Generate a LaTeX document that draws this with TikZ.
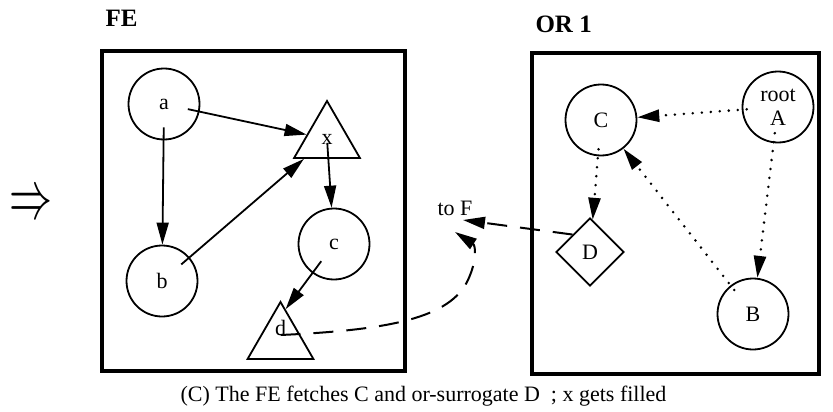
\documentclass[tikz,border=0pt]{standalone}
\usepackage{fontspec}
\setmainfont{Liberation Serif}
\usetikzlibrary{positioning,arrows.meta,shapes.geometric,calc}

\begin{document}
\begin{tikzpicture}[x=1pt, y=-1pt,
    every node/.style={font=\fontsize{22}{24}\selectfont},
    obj/.style={draw, circle, line width=1.8pt, minimum size=71pt, inner sep=0pt},
    tri/.style={draw, regular polygon, regular polygon sides=3, line width=1.8pt, minimum size=76pt, inner sep=0pt},
    surr/.style={draw, diamond, line width=1.8pt, minimum width=68pt, minimum height=68pt, inner sep=0pt},
    panel/.style={draw, line width=4.5pt, inner sep=0pt},
    title/.style={font=\fontsize{25}{27}\selectfont\bfseries, anchor=base west},
    link/.style={-{Triangle[length=22pt,width=12pt]}, line width=1.8pt},
    ptr/.style={link, line width=2.8pt, line cap=round, dash pattern=on 0pt off 9pt},
    remote/.style={link, line width=2pt, dash pattern=on 20pt off 13pt}]
    \useasboundingbox (0,0) rectangle (833,412);

    % the two spaces
    \node[panel, minimum width=303pt, minimum height=320pt] (fe) at (253.5,211) {};
    \node[panel, minimum width=287pt, minimum height=321pt] (or) at (675.5,213.5) {};
    \node[title] (fetitle) at (102,27) {FE};
    \node[title] (ortitle) at (532,33) {OR 1};

    % FE objects
    \node[obj] (a) at (164,104) {a};
    \node[obj] (b) at (162,281) {b};
    \node[obj] (c) at (334,244) {c};
    \node[tri] (x) at (327,139) {x};
    \node[tri, label={[yshift=12pt]center:d}] (d) at (280.5,340) {};

    % OR 1 objects
    \node[obj] (C) at (601,120) {C};
    \node[obj, align=center] (A) at (778,107) {root\\A};
    \node[obj] (B) at (753,314) {B};
    \node[surr] (D) at (590,252) {D};

    \node (impl) at (31,206) {\scalebox{1}[1.6]{\resizebox{43pt}{!}{$\Rightarrow$}}};
    \node[anchor=base] (tofl) at (455,215) {to F};
    \coordinate (toF) at (463,220);
    \coordinate (back) at (455,232);
    \node[anchor=base] (caption) at (423.5,401) {(C) The FE fetches C and or-surrogate D\ \ ; x gets filled};

    \draw[link, shorten <=-12pt] (a) -- (x);
    \draw[link, shorten <=-13pt] (a) -- (b);
    \draw[link, shorten <=-11pt] (b) -- (x);
    \draw[link, shorten <=-16pt] (x) -- (c);
    \draw[link, shorten <=-15pt] (c) -- ($(d.corner 1)!0.15!(d.corner 3)$);

    \draw[ptr, shorten <=-5pt] (A) -- (C);
    \draw[ptr, shorten <=-10pt] (A) -- (B);
    \draw[ptr, shorten <=-6pt] (B) -- (C);
    \draw[ptr, shorten <=-7pt] (C) -- (D);

    \draw[remote] (D.north west) -- (toF);
    \draw[remote] ([yshift=5pt]d.center) .. controls (390,330) and (450,318) .. (468,280)
        .. controls (478,258) and (475,245) .. (back);
\end{tikzpicture}
\end{document}
